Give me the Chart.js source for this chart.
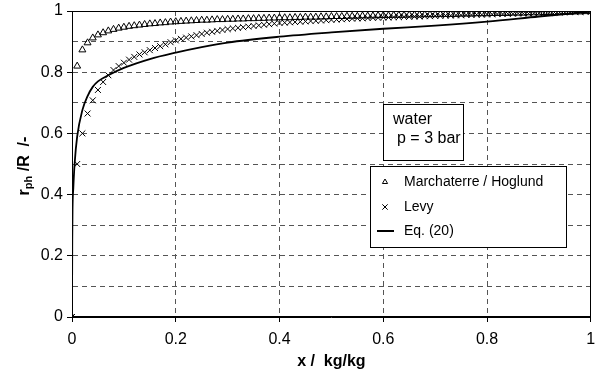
<!DOCTYPE html>
<html>
<head>
<meta charset="utf-8">
<script src="https://cdn.jsdelivr.net/npm/chart.js@4.4.1/dist/chart.umd.min.js"></script>
<style>
  html, body { margin: 0; padding: 0; background: #fff; }
  #wrap { width: 596px; height: 373px; position: relative; }
</style>
</head>
<body>
<div id="wrap"><canvas id="chart"></canvas></div>
<script>
// vapour quality x (kg/kg) where both correlations were evaluated
const quality = [
  0, 0.01, 0.02, 0.03, 0.04, 0.05, 0.06, 0.07, 0.08, 0.09,
  0.10, 0.11, 0.12, 0.13, 0.14, 0.15, 0.16, 0.17, 0.18, 0.19,
  0.20, 0.21, 0.22, 0.23, 0.24, 0.25, 0.26, 0.27, 0.28, 0.29,
  0.30, 0.31, 0.32, 0.33, 0.34, 0.35, 0.36, 0.37, 0.38, 0.39,
  0.40, 0.41, 0.42, 0.43, 0.44, 0.45, 0.46, 0.47, 0.48, 0.49,
  0.50, 0.51, 0.52, 0.53, 0.54, 0.55, 0.56, 0.57, 0.58, 0.59,
  0.60, 0.61, 0.62, 0.63, 0.64, 0.65, 0.66, 0.67, 0.68, 0.69,
  0.70, 0.71, 0.72, 0.73, 0.74, 0.75, 0.76, 0.77, 0.78, 0.79,
  0.80, 0.81, 0.82, 0.83, 0.84, 0.85, 0.86, 0.87, 0.88, 0.89,
  0.90, 0.91, 0.92, 0.93, 0.94, 0.95, 0.96, 0.97, 0.98, 0.99,
  1.00
];

// r_ph / R - Marchaterre / Hoglund (triangles)
const marchaterre = [
  0, 0.820, 0.873, 0.896, 0.912, 0.922, 0.929, 0.935, 0.940, 0.944,
  0.947, 0.950, 0.952, 0.954, 0.956, 0.958, 0.959, 0.961, 0.962, 0.964,
  0.965, 0.966, 0.967, 0.968, 0.969, 0.970, 0.970, 0.971, 0.972, 0.972,
  0.973, 0.973, 0.974, 0.974, 0.975, 0.975, 0.976, 0.976, 0.977, 0.977,
  0.978, 0.978, 0.978, 0.979, 0.979, 0.980, 0.980, 0.980, 0.981, 0.981,
  0.982, 0.982, 0.982, 0.983, 0.983, 0.983, 0.984, 0.984, 0.984, 0.985,
  0.985, 0.985, 0.986, 0.986, 0.986, 0.987, 0.987, 0.987, 0.988, 0.988,
  0.988, 0.989, 0.989, 0.989, 0.989, 0.990, 0.990, 0.990, 0.991, 0.991,
  0.991, 0.992, 0.992, 0.992, 0.992, 0.993, 0.993, 0.993, 0.994, 0.994,
  0.994, 0.995, 0.995, 0.995, 0.996, 0.996, 0.996, 0.997, 0.997, 0.998,
  0.998
];

// r_ph / R - Levy (crosses)
const levy = [
  0, 0.500, 0.600, 0.665, 0.708, 0.742, 0.768, 0.790, 0.807, 0.820,
  0.831, 0.841, 0.850, 0.858, 0.865, 0.872, 0.879, 0.885, 0.891, 0.898,
  0.904, 0.909, 0.913, 0.917, 0.921, 0.925, 0.929, 0.932, 0.935, 0.938,
  0.941, 0.943, 0.945, 0.947, 0.949, 0.951, 0.953, 0.955, 0.957, 0.959,
  0.961, 0.962, 0.963, 0.964, 0.965, 0.966, 0.967, 0.968, 0.969, 0.970,
  0.971, 0.972, 0.973, 0.974, 0.975, 0.976, 0.976, 0.977, 0.978, 0.978,
  0.979, 0.979, 0.980, 0.980, 0.981, 0.981, 0.982, 0.982, 0.983, 0.983,
  0.984, 0.984, 0.985, 0.985, 0.986, 0.986, 0.987, 0.987, 0.988, 0.988,
  0.989, 0.989, 0.990, 0.990, 0.991, 0.991, 0.992, 0.992, 0.992, 0.993,
  0.993, 0.994, 0.994, 0.995, 0.995, 0.996, 0.996, 0.997, 0.997, 0.998,
  0.998
];

// Eq. (20) curve
const eqX = [0, 0.0005, 0.001, 0.0025, 0.005, 0.01, 0.02, 0.03, 0.04, 0.05, 0.07,
             0.1, 0.15, 0.2, 0.25, 0.3, 0.4, 0.5, 0.6, 0.7, 0.8, 0.9, 1];
const eqY = [0, 0.25, 0.35, 0.42, 0.50, 0.59, 0.676, 0.722, 0.752, 0.770, 0.790,
             0.814, 0.843, 0.864, 0.882, 0.897, 0.916, 0.930, 0.942, 0.952, 0.965, 0.982, 0.998];

const seriesNames = ["Marchaterre / Hoglund", "Levy", "Eq. (20)"];
const noteLines = ["water", "p = 3 bar"];
const xTitle = "x /  kg/kg";

const FONT = '"Liberation Sans", Arial, Helvetica, sans-serif';

const toPoints = (xs, ys) => xs.map((x, i) => ({ x, y: ys[i] }));
const fmt = v => String(Math.round(v * 10) / 10);

// === frame, note box, legend and y title ===
const overlay = {
  id: "overlay",
  beforeDatasetsDraw(chart) {
    const { ctx, chartArea: a } = chart;
    ctx.save();
    ctx.strokeStyle = "#000";
    ctx.lineWidth = 1;
    ctx.strokeRect(Math.round(a.left) + 0.5, Math.round(a.top) + 0.5,
                   Math.round(a.right - a.left) - 1, Math.round(a.bottom - a.top) - 1);
    ctx.restore();
  },
  afterDraw(chart) {
    const ctx = chart.ctx;
    ctx.save();

    // note box
    ctx.fillStyle = "#fff";
    ctx.fillRect(383, 104, 80, 56);
    ctx.strokeStyle = "#000";
    ctx.lineWidth = 1;
    ctx.strokeRect(383.5, 104.5, 80, 56);
    ctx.fillStyle = "#000";
    ctx.font = "16px " + FONT;
    ctx.textBaseline = "middle";
    ctx.textAlign = "left";
    ctx.fillText(noteLines[0], 393, 120);
    ctx.fillText(noteLines[1], 397, 139);

    // legend box
    ctx.fillStyle = "#fff";
    ctx.fillRect(370, 166, 196, 81);
    ctx.strokeRect(370.5, 166.5, 196, 81);
    const rows = [182, 207, 231];
    ctx.font = "14px " + FONT;
    ctx.fillStyle = "#000";
    rows.forEach((y, i) => ctx.fillText(seriesNames[i], 404, y));
    ctx.fillStyle = "rgba(0,0,0,0)";
    ctx.strokeStyle = "#000";
    Chart.helpers.drawPoint(ctx, { pointStyle: "triangle", radius: 3, rotation: 0, borderWidth: 1 }, 385, rows[0]);
    Chart.helpers.drawPoint(ctx, { pointStyle: "crossRot", radius: 3.8, rotation: 0, borderWidth: 1 }, 385, rows[1]);
    ctx.lineWidth = 2;
    ctx.beginPath();
    ctx.moveTo(377, rows[2]);
    ctx.lineTo(394, rows[2]);
    ctx.stroke();

    // y title with subscript: r_ph /R  /-
    const big = "bold 16px " + FONT;
    const small = "bold 11px " + FONT;
    const parts = [["r", big, 0], ["ph", small, 4], [" /R  /-", big, 0]];
    let total = 0;
    parts.forEach(p => { ctx.font = p[1]; total += ctx.measureText(p[0]).width; });
    ctx.translate(25, 166);
    ctx.rotate(-Math.PI / 2);
    ctx.fillStyle = "#000";
    ctx.textBaseline = "middle";
    let x = -total / 2;
    parts.forEach(p => {
      ctx.font = p[1];
      ctx.fillText(p[0], x, p[2]);
      x += ctx.measureText(p[0]).width;
    });
    ctx.restore();
  }
};

const isEnd = v => v <= 0.0001 || v >= 0.9999;
const isMajor = v => Math.round(v * 10) % 2 === 0;

new Chart(document.getElementById("chart"), {
  type: "scatter",
  data: {
    datasets: [
      {
        label: seriesNames[0],
        data: toPoints(quality, marchaterre),
        pointStyle: "triangle",
        pointRadius: 4,
        borderColor: "#000",
        backgroundColor: "rgba(0,0,0,0)",
        borderWidth: 1,
        showLine: false
      },
      {
        label: seriesNames[1],
        data: toPoints(quality, levy),
        pointStyle: "crossRot",
        pointRadius: 4.2,
        borderColor: "#000",
        backgroundColor: "#000",
        borderWidth: 1,
        showLine: false
      },
      {
        label: seriesNames[2],
        data: toPoints(eqX, eqY),
        showLine: true,
        pointRadius: 0,
        borderColor: "#000",
        borderWidth: 1.8,
        cubicInterpolationMode: "monotone",
        fill: false
      }
    ]
  },
  options: {
    responsive: true,
    maintainAspectRatio: false,
    animation: false,
    events: [],
    layout: { padding: { top: 11, right: 2, left: 0, bottom: 0 } },
    plugins: {
      legend: { display: false },
      tooltip: { enabled: false }
    },
    scales: {
      x: {
        type: "linear",
        min: 0,
        max: 1,
        afterFit: s => { s.height = 56; s.paddingRight = 0; s.paddingLeft = 0; },
        ticks: {
          stepSize: 0.2,
          color: "#000",
          font: { family: FONT, size: 16 },
          padding: 8,
          maxRotation: 0,
          callback: v => fmt(v)
        },
        grid: {
          color: c => isEnd(c.tick.value) ? "rgba(0,0,0,0)" : "#555",
          lineWidth: 1,
          tickColor: "#000",
          tickLength: 5
        },
        border: { display: true, color: "#000", width: 1, dash: [5, 4] },
        title: {
          display: true,
          text: xTitle,
          color: "#000",
          font: { family: FONT, size: 16, weight: "bold" },
          padding: { top: 0, bottom: 2 }
        }
      },
      y: {
        min: 0,
        max: 1,
        afterFit: s => { s.width = 72; s.paddingTop = 0; s.paddingBottom = 0; },
        ticks: {
          stepSize: 0.1,
          color: "#000",
          font: { family: FONT, size: 16 },
          padding: 4,
          callback: v => isMajor(v) ? fmt(v) : ""
        },
        grid: {
          color: c => isEnd(c.tick.value) ? "rgba(0,0,0,0)" : "#555",
          lineWidth: 1,
          tickColor: c => isMajor(c.tick.value) ? "#000" : "rgba(0,0,0,0)",
          tickLength: 5
        },
        border: { display: true, color: "#000", width: 1, dash: [5, 4] }
      }
    }
  },
  plugins: [overlay]
});
</script>
</body>
</html>
